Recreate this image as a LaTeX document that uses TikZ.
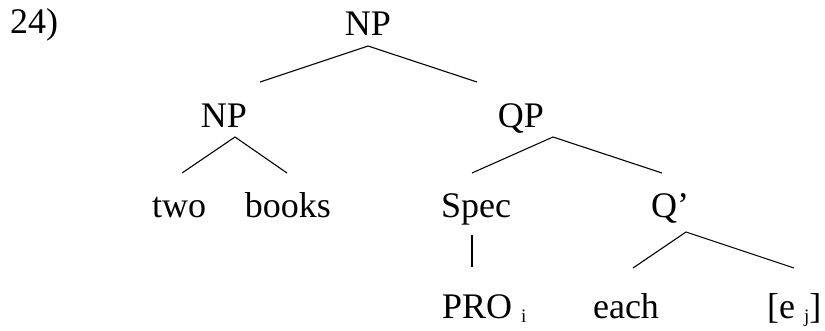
\documentclass[tikz,border=0pt]{standalone}
\usepackage{fontspec}
\setmainfont{Liberation Serif}
\begin{document}
\begin{tikzpicture}[x=1pt,y=-1pt,
  lab/.style={inner sep=0pt, anchor=base, font=\fontsize{36}{40}\selectfont},
  labw/.style={inner sep=0pt, anchor=base west, font=\fontsize{36}{40}\selectfont},
  branch/.style={line width=1.1pt, draw=black}]
\useasboundingbox (0,0) rectangle (825,330);
% labels
\node[labw] (ex) at (10,33) {24)};
\node[lab] (np0) at (368,35) {NP};
\node[lab] (np1) at (224,127) {NP};
\node[lab] (qp) at (521,127) {QP};
\node[lab] (two) at (179,217) {two};
\node[lab] (books) at (288,217) {books};
\node[lab] (spec) at (476,217) {Spec};
\node[lab] (qbar) at (670,217) {Q'};
\node[labw] (pro) at (442,318) {PRO \raisebox{-4pt}{\fontsize{19}{19}\selectfont i}};
\node[lab] (each) at (626,318) {each};
\node[labw] (ej) at (767,318) {[e \raisebox{-4pt}{\fontsize{19}{19}\selectfont j}]};
% branch points
\coordinate (np0b) at (368,46);
\coordinate (np1t) at (260,82);
\coordinate (qpt) at (477,82);
\coordinate (np1b) at (235,137);
\coordinate (twot) at (182,173);
\coordinate (bookst) at (287,173);
\coordinate (qpb) at (553,137);
\coordinate (spect) at (472,173);
\coordinate (qbart) at (662,173);
\coordinate (specb) at (472,235);
\coordinate (prot) at (472,267);
\coordinate (qbarb) at (686,232);
\coordinate (eacht) at (633,268);
\coordinate (ejt) at (794,268);
% branches
\draw[branch] (np1t) -- (np0b) -- (qpt);
\draw[branch] (twot) -- (np1b) -- (bookst);
\draw[branch] (spect) -- (qpb) -- (qbart);
\draw[branch] (specb) -- (prot);
\draw[branch] (eacht) -- (qbarb) -- (ejt);
\end{tikzpicture}
\end{document}
